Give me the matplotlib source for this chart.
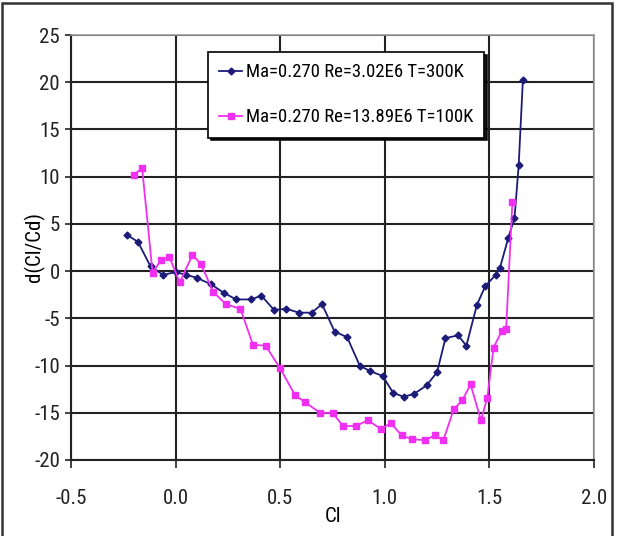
import matplotlib
matplotlib.use("Agg")
import matplotlib.pyplot as plt
from matplotlib.patches import Rectangle
from matplotlib import font_manager

# data
cl_300k = [-0.23, -0.18, -0.12, -0.06, 0.00, 0.05, 0.10, 0.17, 0.23, 0.29,
           0.36, 0.41, 0.47, 0.53, 0.59, 0.65, 0.70, 0.76, 0.82, 0.88,
           0.93, 0.99, 1.04, 1.09, 1.14, 1.20, 1.25, 1.29, 1.35, 1.39,
           1.44, 1.48, 1.53, 1.55, 1.59, 1.62, 1.64, 1.66]
dcl_300k = [3.8, 3.1, 0.5, -0.4, -0.1, -0.4, -0.7, -1.4, -2.3, -3.0,
            -3.0, -2.6, -4.1, -4.0, -4.4, -4.4, -3.5, -6.4, -7.0, -10.0,
            -10.6, -11.1, -12.9, -13.3, -13.0, -12.1, -10.7, -7.1, -6.8, -7.9,
            -3.6, -1.6, -0.4, 0.3, 3.5, 5.6, 11.2, 20.2]

cl_100k = [-0.20, -0.16, -0.11, -0.07, -0.03, 0.02, 0.08, 0.12, 0.18, 0.24,
           0.31, 0.37, 0.43, 0.50, 0.57, 0.62, 0.69, 0.75, 0.80, 0.86,
           0.92, 0.98, 1.03, 1.08, 1.13, 1.19, 1.24, 1.28, 1.33, 1.37,
           1.41, 1.46, 1.49, 1.52, 1.56, 1.58, 1.61]
dcl_100k = [10.2, 10.9, -0.2, 1.2, 1.5, -1.2, 1.7, 0.8, -2.2, -3.5,
            -4.0, -7.8, -7.9, -10.3, -13.1, -13.9, -15.0, -15.0, -16.4, -16.4,
            -15.8, -16.7, -16.1, -17.4, -17.8, -17.9, -17.4, -17.9, -14.6, -13.7,
            -12.0, -15.8, -13.4, -8.1, -6.3, -6.1, 7.3]

label_300k = "Ma=0.270 Re=3.02E6 T=300K"
label_100k = "Ma=0.270 Re=13.89E6 T=100K"

xticks = [-0.5, 0.0, 0.5, 1.0, 1.5, 2.0]
yticks = [-20, -15, -10, -5, 0, 5, 10, 15, 20, 25]

# the reference uses a narrow Arial-like face, take one if there is one
names = {f.name for f in font_manager.fontManager.ttflist}
narrow = [n for n in ["Liberation Sans Narrow", "DejaVu Sans Condensed",
                      "Roboto Condensed", "Open Sans Condensed"] if n in names]
if narrow:
    plt.rcParams["font.family"] = [narrow[0], "DejaVu Sans"]
    fs = 15
    fs_leg = 13.5
else:
    plt.rcParams["font.family"] = ["Liberation Sans", "DejaVu Sans"]
    fs = 13
    fs_leg = 12
plt.rcParams["axes.unicode_minus"] = False

fig = plt.figure(figsize=(6.17, 5.36), dpi=100)
ax = fig.add_axes([0.1151, 0.1418, 0.8476, 0.7929])

ax.plot(cl_300k, dcl_300k, color="#1c1c78", marker="D", markersize=3.5,
        linewidth=1.3, label=label_300k, zorder=3)
ax.plot(cl_100k, dcl_100k, color="#f030f0", marker="s", markersize=4,
        linewidth=1.3, label=label_100k, zorder=3)

ax.set_xlim(-0.5, 2.0)
ax.set_ylim(-20, 25)
ax.set_xticks(xticks)
ax.set_xticklabels([f"{t:.1f}" for t in xticks])
ax.set_yticks(yticks)
ax.grid(True, color="#222222", linewidth=1.5)
ax.set_axisbelow(True)
ax.tick_params(direction="out", width=1.2, labelsize=fs, colors="#222222")
ax.tick_params(axis="x", length=6, pad=15)
ax.tick_params(axis="y", length=4, pad=4)
for side in ["left", "bottom"]:
    ax.spines[side].set_color("#222222")
    ax.spines[side].set_linewidth(1.5)
for side in ["top", "right"]:
    ax.spines[side].set_color("#999999")
    ax.spines[side].set_linewidth(1.2)

ax.set_xlabel("Cl", fontsize=fs, labelpad=-1)
ax.set_ylabel("d(Cl/Cd)", fontsize=fs, labelpad=-8)

leg = ax.legend(loc="upper left", bbox_to_anchor=(0.262, 0.96), fontsize=fs_leg,
                frameon=True, fancybox=False, framealpha=1, edgecolor="black",
                handlelength=1.2, handletextpad=0.2, labelspacing=1.45,
                borderpad=0.6, borderaxespad=0,
                shadow={"color": "black", "alpha": 0.9})
leg.get_frame().set_linewidth(1.2)

# outer frame around the picture
fig.patches.append(Rectangle((0.004, -0.01), 0.988, 1.004, transform=fig.transFigure,
                             fill=False, edgecolor="#333333", linewidth=1.8))

fig.savefig("out.png", dpi=100)
